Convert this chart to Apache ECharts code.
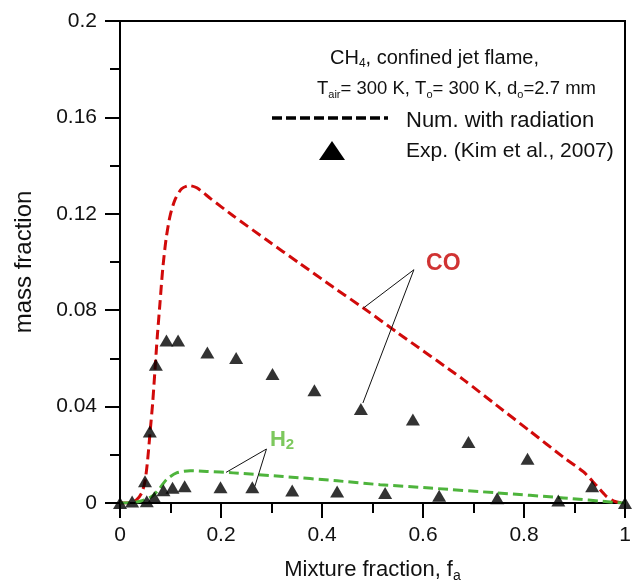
<!DOCTYPE html>
<html>
<head>
<meta charset="utf-8">
<script src="https://cdn.jsdelivr.net/npm/echarts@6/dist/echarts.min.js"></script>
<style>
  html, body { margin: 0; padding: 0; background: #fff; }
  #chart { width: 640px; height: 584px; }
</style>
</head>
<body>
<div id="chart"></div>
<script>
// Numerical CO mass fraction vs. mixture fraction (with radiation)
var coNumX = [0, 0.016, 0.033, 0.043, 0.0495, 0.0548, 0.0594, 0.0647, 0.0693, 0.0739, 0.0792, 0.0845, 0.0911, 0.099, 0.109, 0.122, 0.137, 0.152, 0.18, 0.224, 0.29, 0.356, 0.422, 0.482, 0.55, 0.68, 0.746, 0.812, 0.878, 0.918, 0.944, 0.962, 0.977, 0.997, 1];
var coNumY = [0, 0, 0.0014, 0.0042, 0.009, 0.018, 0.029, 0.0415, 0.0553, 0.0692, 0.083, 0.0969, 0.1093, 0.119, 0.1259, 0.1304, 0.1317, 0.1308, 0.1262, 0.1192, 0.1092, 0.0994, 0.0896, 0.0809, 0.0706, 0.0512, 0.0405, 0.0298, 0.019, 0.0129, 0.0071, 0.003, 0.0009, 0, 0];

// Numerical H2 mass fraction
var h2NumX = [0, 0.013, 0.04, 0.063, 0.079, 0.092, 0.112, 0.139, 0.172, 0.224, 0.323, 0.43, 0.515, 0.614, 0.746, 0.878, 0.977, 1];
var h2NumY = [0, 0, 0.0007, 0.0027, 0.0062, 0.0097, 0.0125, 0.0134, 0.0131, 0.0125, 0.011, 0.0092, 0.0076, 0.0062, 0.0042, 0.0021, 0.0003, 0];

// Measurements (Kim et al., 2007): CO
var coExpX = [0, 0.024, 0.0495, 0.059, 0.071, 0.092, 0.115, 0.173, 0.230, 0.302, 0.385, 0.477, 0.580, 0.690, 0.807, 0.935, 1];
var coExpY = [0, 0.0006, 0.009, 0.0297, 0.0574, 0.0674, 0.0674, 0.0625, 0.0602, 0.0535, 0.0468, 0.039, 0.0346, 0.0253, 0.0184, 0.0069, 0];

// Measurements (Kim et al., 2007): H2
var h2ExpX = [0.053, 0.068, 0.086, 0.104, 0.128, 0.199, 0.262, 0.341, 0.430, 0.525, 0.632, 0.747, 0.868];
var h2ExpY = [0.0007, 0.0024, 0.0053, 0.0063, 0.0069, 0.0065, 0.0065, 0.0052, 0.0048, 0.0042, 0.003, 0.002, 0.001];

// Axis tick labels
var xTickLabels = ['0', '0.2', '0.4', '0.6', '0.8', '1'];
var yTickLabels = ['0', '0.04', '0.08', '0.12', '0.16', '0.2'];

// Leader lines for the species labels: end -> apex -> end (data units)
var coLeaderX = [0.482, 0.582, 0.481];
var coLeaderY = [0.0809, 0.0968, 0.0415];
var h2LeaderX = [0.210, 0.290, 0.267];
var h2LeaderY = [0.0127, 0.0224, 0.0069];

// Species label anchors (left-middle of the text)
var coLabelPos = [0.606, 0.0994];
var h2LabelPos = [0.297, 0.0262];

function zip(xs, ys) {
  return xs.map(function (x, i) { return [x, ys[i]]; });
}

var FONT = '"Liberation Sans", Arial, Helvetica, sans-serif';
var RED = '#d10a0a';
var GREEN = '#4eb43c';

var chart = echarts.init(document.getElementById('chart'), null, { renderer: 'canvas' });

var option = {
  backgroundColor: '#fff',
  animation: false,
  textStyle: { fontFamily: FONT },
  grid: {
    left: 120, right: 15, top: 21, bottom: 81,
    show: true, borderColor: '#000', borderWidth: 2,
    outerBoundsMode: 'none'
  },
  xAxis: {
    type: 'value', min: 0, max: 1, interval: 0.2,
    name: 'Mixture fraction, f{s|a}',
    nameLocation: 'middle', nameGap: 54,
    nameTextStyle: {
      fontFamily: FONT, fontSize: 22, color: '#111', lineHeight: 26,
      rich: { s: { fontFamily: FONT, fontSize: 14, color: '#111', lineHeight: 14, padding: [12, 0, 0, 0] } }
    },
    axisLine: { show: true, lineStyle: { color: '#000', width: 2 } },
    axisTick: { show: true, inside: false, length: 15, lineStyle: { color: '#000', width: 2 } },
    minorTick: { show: true, splitNumber: 2, length: 10, lineStyle: { color: '#000', width: 2 } },
    axisLabel: {
      margin: 22, fontSize: 21, color: '#111', fontFamily: FONT,
      formatter: function (v) { return xTickLabels[Math.round(v / 0.2)]; }
    },
    splitLine: { show: false }
  },
  yAxis: {
    type: 'value', min: 0, max: 0.2, interval: 0.04,
    name: 'mass fraction',
    nameLocation: 'middle', nameGap: 84,
    nameTextStyle: { fontFamily: FONT, fontSize: 24, color: '#111' },
    axisLine: { show: true, lineStyle: { color: '#000', width: 2 } },
    axisTick: { show: true, inside: false, length: 15, lineStyle: { color: '#000', width: 2 } },
    minorTick: { show: true, splitNumber: 2, length: 10, lineStyle: { color: '#000', width: 2 } },
    axisLabel: {
      margin: 23, fontSize: 21, color: '#111', fontFamily: FONT,
      formatter: function (v) { return yTickLabels[Math.round(v / 0.04)]; }
    },
    splitLine: { show: false }
  },
  series: [
    {
      name: 'CO num', type: 'line', data: zip(coNumX, coNumY),
      smooth: 0.25, symbol: 'none', z: 2,
      lineStyle: { color: RED, width: 3, type: [10, 5] }
    },
    {
      name: 'H2 num', type: 'line', data: zip(h2NumX, h2NumY),
      smooth: 0.25, symbol: 'none', z: 2,
      lineStyle: { color: GREEN, width: 3, type: [10, 5] }
    },
    {
      name: 'CO exp', type: 'scatter', data: zip(coExpX, coExpY),
      symbol: 'triangle', symbolSize: [14, 12], z: 5,
      itemStyle: { color: '#000' }
    },
    {
      name: 'H2 exp', type: 'scatter', data: zip(h2ExpX, h2ExpY),
      symbol: 'triangle', symbolSize: [14, 12], z: 5,
      itemStyle: { color: '#000' }
    },
    {
      name: 'CO leader', type: 'line', data: zip(coLeaderX, coLeaderY),
      symbol: 'none', silent: true, z: 4,
      lineStyle: { color: '#111', width: 1 }
    },
    {
      name: 'H2 leader', type: 'line', data: zip(h2LeaderX, h2LeaderY),
      symbol: 'none', silent: true, z: 4,
      lineStyle: { color: '#111', width: 1 }
    },
    {
      name: 'species labels', type: 'scatter', symbolSize: 0, silent: true, z: 6,
      data: [
        {
          value: coLabelPos,
          label: {
            show: true, position: 'right', distance: 0,
            formatter: 'CO', fontFamily: FONT, fontSize: 23, fontWeight: 'bold', color: '#c40000'
          }
        },
        {
          value: h2LabelPos,
          label: {
            show: true, position: 'right', distance: 0,
            formatter: 'H{s|2}', fontFamily: FONT, fontSize: 22, fontWeight: 'bold', color: '#5cba35',
            lineHeight: 24,
            rich: { s: { fontFamily: FONT, fontSize: 15, fontWeight: 'bold', color: '#5cba35', lineHeight: 15, padding: [10, 0, 0, 0] } }
          }
        }
      ]
    }
  ],
  graphic: [
    {
      type: 'text', left: 330, top: 46,
      style: {
        text: 'CH{s|4}, confined jet flame,',
        font: '20px ' + FONT, fill: '#111', lineHeight: 24,
        rich: { s: { fontSize: 12, fontFamily: FONT, fill: '#111', lineHeight: 12, padding: [12, 0, 0, 0] } }
      }
    },
    {
      type: 'text', left: 317, top: 77,
      style: {
        text: 'T{s|air}= 300 K, T{s|o}= 300 K, d{s|o}=2.7 mm',
        font: '18.5px ' + FONT, fill: '#111', lineHeight: 24,
        rich: { s: { fontSize: 11, fontFamily: FONT, fill: '#111', lineHeight: 11, padding: [12, 0, 0, 0] } }
      }
    },
    {
      type: 'line',
      shape: { x1: 272, y1: 118, x2: 388, y2: 118 },
      style: { stroke: '#000', lineWidth: 3.5, lineDash: [10, 4] }
    },
    {
      type: 'text', left: 406, top: 110,
      style: { text: 'Num. with radiation', font: '22px ' + FONT, fill: '#111' }
    },
    {
      type: 'polygon',
      shape: { points: [[332, 141], [345, 160], [319, 160]] },
      style: { fill: '#000' }
    },
    {
      type: 'text', left: 406, top: 141,
      style: { text: 'Exp. (Kim et al., 2007)', font: '21px ' + FONT, fill: '#111' }
    }
  ]
};

chart.setOption(option);
</script>
</body>
</html>
